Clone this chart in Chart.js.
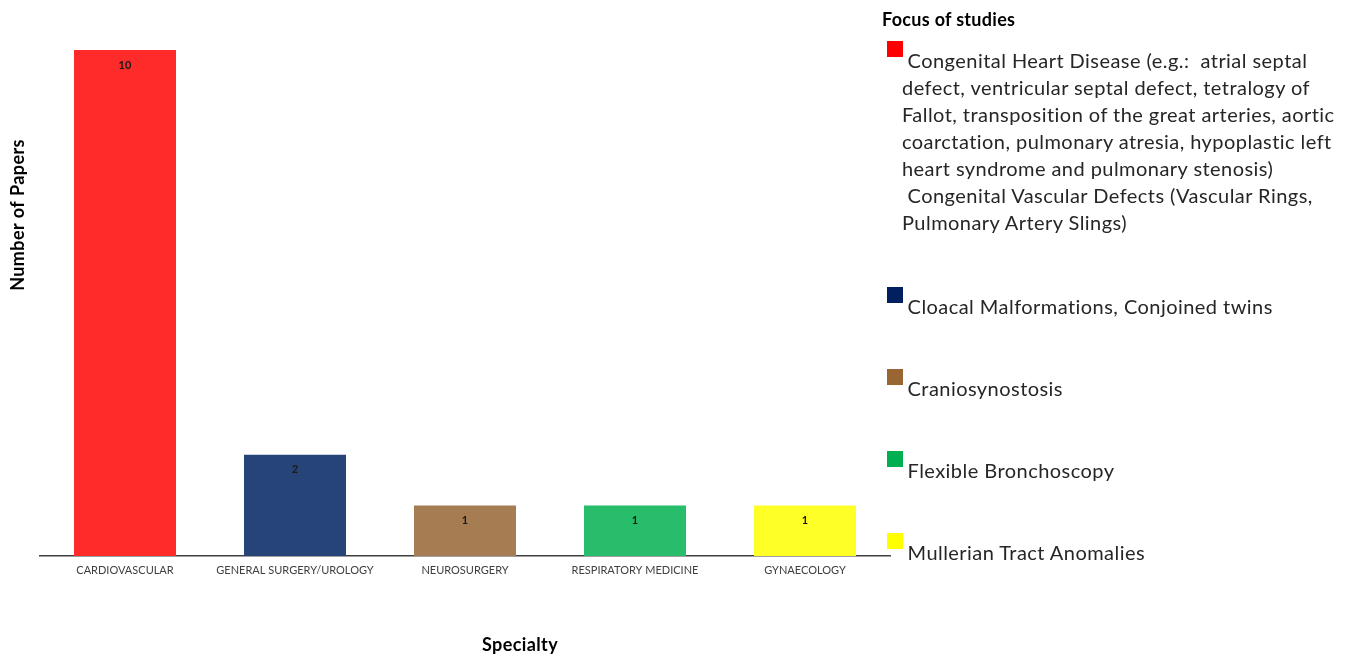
<!DOCTYPE html>
<html>
<head>
<meta charset="utf-8">
<script src="https://cdn.jsdelivr.net/npm/chart.js@4/dist/chart.umd.min.js"></script>
<style>
    html, body { margin: 0; padding: 0; background: #fff; }
    .wrap { position: relative; width: 1350px; height: 654px; }
    #chart { position: absolute; left: 0; top: 0; }
    .legend { position: absolute; left: 882px; top: 8px; font-family: Lato, sans-serif; color: #262626; }
    .legend_title { font-weight: bold; font-size: 18px; letter-spacing: 0.3px; color: #000; height: 22px; }
    .legend_item { position: absolute; left: 0; width: 468px; }
    .legend_item i { position: absolute; left: 5px; top: 0; width: 16px; height: 16px; }
    .legend_item span { display: block; padding: 6px 0 0 20px; font-size: 20px; letter-spacing: 0.45px; line-height: 27px; white-space: pre; }
</style>
</head>
<body>
<div class="wrap">
    <canvas id="chart" width="1350" height="654"></canvas>
    <div class="legend js-legend">
        <div class="legend_title">Focus of studies</div>
    </div>
</div>
<script>
const categories = ['CARDIOVASCULAR', 'GENERAL SURGERY/UROLOGY', 'NEUROSURGERY', 'RESPIRATORY MEDICINE', 'GYNAECOLOGY'];
const papers = [10, 2, 1, 1, 1];
const barColors = ['#FF2A2A', '#264478', '#A67C52', '#27BD6B', '#FFFF28'];
const swatchColors = ['#FF0000', '#002060', '#996633', '#00B050', '#FFFF00'];
const focusLabels = [
    ' Congenital Heart Disease (e.g.:  atrial septal\ndefect, ventricular septal defect, tetralogy of\nFallot, transposition of the great arteries, aortic\ncoarctation, pulmonary atresia, hypoplastic left\nheart syndrome and pulmonary stenosis)\n Congenital Vascular Defects (Vascular Rings,\nPulmonary Artery Slings)',
    ' Cloacal Malformations, Conjoined twins',
    ' Craniosynostosis',
    ' Flexible Bronchoscopy',
    ' Mullerian Tract Anomalies',
];
const legendTops = [33, 279, 361, 443, 525];

const TEXT_COLOR = '#404040';

// legend on the right
const $legend = document.querySelector('.js-legend');
focusLabels.forEach((label, i) => {
    const item = document.createElement('div');
    item.className = 'legend_item';
    item.style.top = legendTops[i] + 'px';
    const sw = document.createElement('i');
    sw.style.background = swatchColors[i];
    const txt = document.createElement('span');
    txt.textContent = label;
    item.appendChild(sw);
    item.appendChild(txt);
    $legend.appendChild(item);
});

const barValues = {
    id: 'barValues',
    afterDatasetsDraw(chart) {
        const {ctx} = chart;
        const meta = chart.getDatasetMeta(0);
        ctx.save();
        ctx.font = 'bold 11px Lato, sans-serif';
        ctx.fillStyle = '#1a1a1a';
        ctx.textAlign = 'center';
        ctx.textBaseline = 'middle';
        meta.data.forEach((bar, i) => {
            ctx.fillText(String(papers[i]), bar.x, bar.y + 15);
        });
        ctx.restore();
    }
};

const axisTitles = {
    id: 'axisTitles',
    afterDraw(chart) {
        const {ctx} = chart;
        ctx.save();
        ctx.font = 'bold 18px Lato, sans-serif';
        ctx.letterSpacing = '0.4px';
        ctx.fillStyle = '#000';
        ctx.textAlign = 'center';
        ctx.textBaseline = 'middle';
        ctx.fillText('Specialty', 520, 645);
        ctx.translate(18, 215);
        ctx.rotate(-Math.PI / 2);
        ctx.fillText('Number of Papers', 0, 0);
        ctx.restore();
    }
};

new Chart(document.getElementById('chart'), {
    type: 'bar',
    data: {
        labels: categories,
        datasets: [{
            data: papers,
            backgroundColor: barColors,
            borderWidth: 0,
            categoryPercentage: 1,
            barPercentage: 0.6,
        }]
    },
    options: {
        responsive: false,
        animation: false,
        layout: {
            padding: {top: 50, right: 460, left: 0, bottom: 0}
        },
        plugins: {
            legend: {display: false},
            tooltip: {enabled: false},
        },
        scales: {
            x: {
                afterFit: (s) => { s.height = 98; },
                grid: {display: false, drawTicks: false},
                border: {display: true, color: '#404040', width: 1.5},
                ticks: {
                    color: TEXT_COLOR,
                    padding: 8,
                    maxRotation: 0,
                    autoSkip: false,
                    font: {family: 'Lato, sans-serif', size: 11}
                }
            },
            y: {
                min: 0,
                max: 10,
                afterFit: (s) => { s.width = 40; },
                grid: {display: false, drawTicks: false},
                border: {display: false},
                ticks: {display: false}
            }
        }
    },
    plugins: [barValues, axisTitles]
});
</script>
</body>
</html>
